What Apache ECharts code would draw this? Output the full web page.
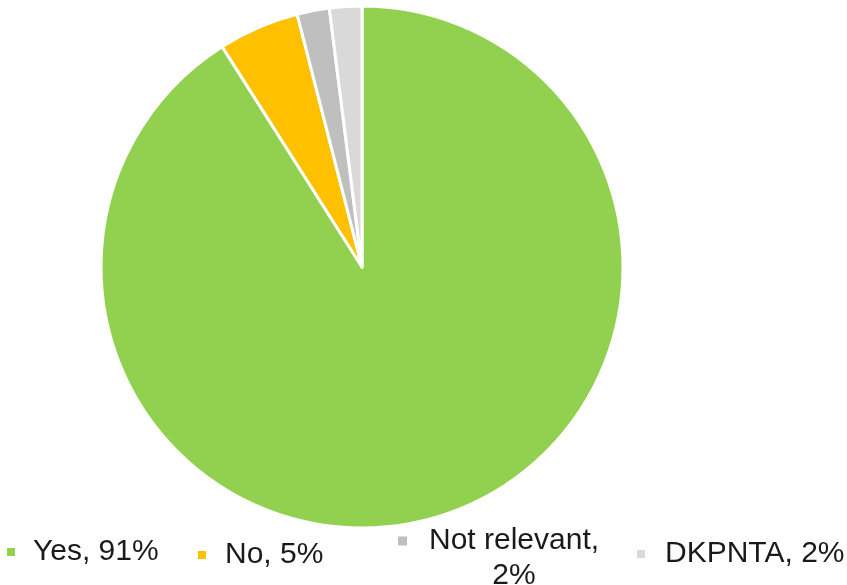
<!DOCTYPE html>
<html>
<head>
<meta charset="utf-8">
<script src="https://cdn.jsdelivr.net/npm/echarts@6/dist/echarts.min.js"></script>
<style>
  html, body { margin: 0; padding: 0; background: #fff; }
  #chart { width: 847px; height: 585px; }
</style>
</head>
<body>
<div id="chart"></div>
<script>
// Survey answers, shares in percent
const categories = ['Yes', 'No', 'Not relevant', 'DKPNTA'];
const shares = [91, 5, 2, 2];
const legendLabels = ['Yes, 91%', 'No, 5%', 'Not relevant,\n2%', 'DKPNTA, 2%'];
const colors = ['#92D050', '#FFC000', '#BFBFBF', '#D9D9D9'];

const FONT = '"Liberation Sans", Arial, sans-serif';
const FS = 30;

// one legend block per answer so each can sit where it belongs
const legendSpots = [
  { left: 7, top: 537, gap: 13 },
  { left: 198, top: 540, gap: 14 },
  { left: 398, top: 491, gap: 17 },
  { left: 637, top: 539, gap: 15 }
];

const legends = categories.map((name, i) => {
  const twoLine = legendLabels[i].indexOf('\n') >= 0;
  const gap = legendSpots[i].gap;
  return {
    data: [name],
    left: legendSpots[i].left,
    top: legendSpots[i].top,
    padding: 0,
    icon: 'rect',
    itemWidth: i === 2 ? 9 : 8,
    itemHeight: i === 2 ? 9 : 8,
    itemStyle: { borderWidth: 0 },
    selectedMode: false,
    formatter: function () {
      if (twoLine) {
        const parts = legendLabels[i].split('\n');
        return '{e| }\n{t|' + parts[0] + '}\n{c|' + parts[1] + '}';
      }
      return '{t|' + legendLabels[i] + '}';
    },
    textStyle: {
      color: '#1a1a1a',
      fontFamily: FONT,
      fontSize: FS,
      rich: {
        e: { fontSize: FS, lineHeight: 35, fontFamily: FONT },
        t: { fontSize: FS, lineHeight: 35, color: '#1a1a1a', fontFamily: FONT, padding: [0, 0, 0, gap] },
        c: { fontSize: FS, lineHeight: 35, color: '#1a1a1a', fontFamily: FONT, align: 'center', padding: [0, 0, 0, gap] }
      }
    }
  };
});

const chart = echarts.init(document.getElementById('chart'), null, { renderer: 'canvas' });
chart.setOption({
  animation: false,
  color: colors,
  legend: legends,
  series: [{
    type: 'pie',
    center: [362, 267],
    radius: 261,
    startAngle: 90,
    clockwise: true,
    label: { show: false },
    labelLine: { show: false },
    emphasis: { disabled: true },
    itemStyle: { borderColor: '#ffffff', borderWidth: 3 },
    data: categories.map((name, i) => ({ name: name, value: shares[i] }))
  }]
});
</script>
</body>
</html>
